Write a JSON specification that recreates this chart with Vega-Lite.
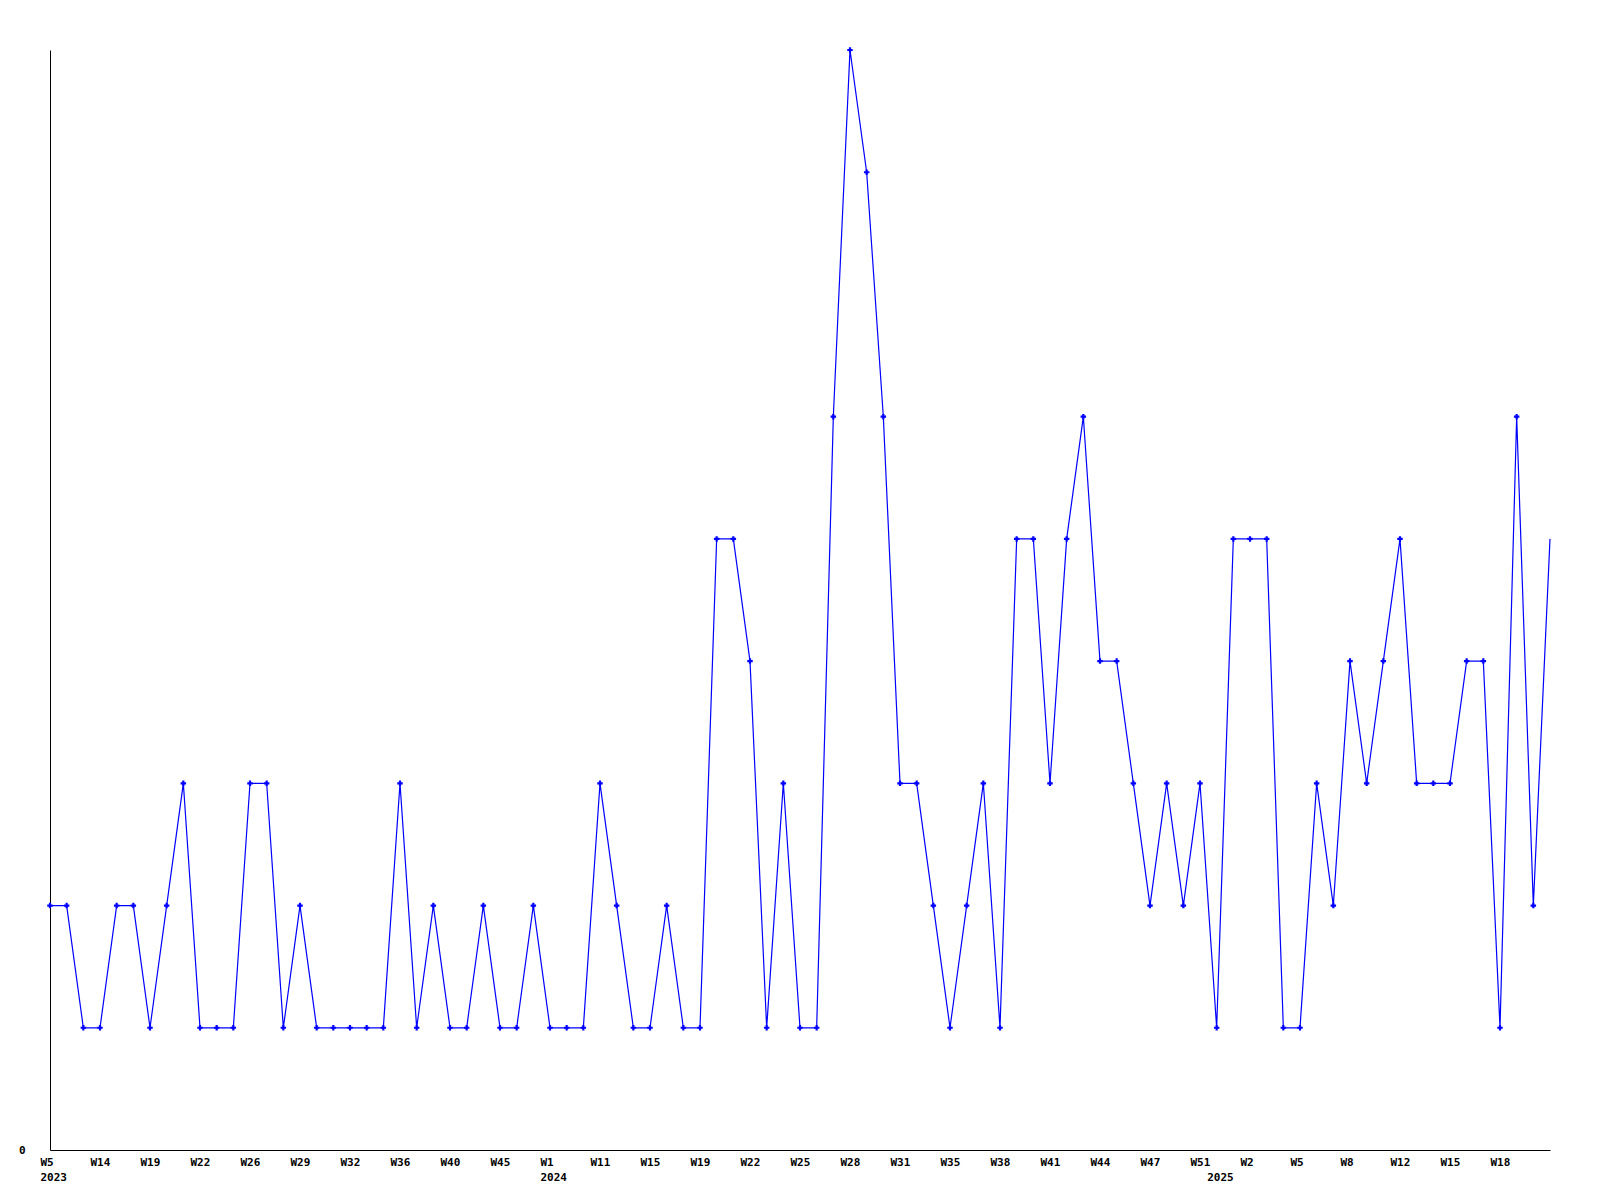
{
  "$schema": "https://vega.github.io/schema/vega-lite/v6.json",
  "width": 1500,
  "height": 1100,
  "autosize": "none",
  "padding": {"left": 50, "top": 50, "right": 50, "bottom": 50},
  "background": "white",
  "config": {
    "view": {"stroke": null},
    "axis": {
      "labelFont": "DejaVu Sans Mono",
      "labelFontWeight": "bold",
      "labelFontSize": 11,
      "labelColor": "black",
      "domainColor": "black",
      "domainWidth": 1,
      "ticks": false,
      "grid": false,
      "title": null,
      "labelOverlap": false
    }
  },
  "data": {
    "values": [
      {"week": "2023-W05", "count": 2},
      {"week": "2023-W09", "count": 2},
      {"week": "2023-W12", "count": 1},
      {"week": "2023-W14", "count": 1},
      {"week": "2023-W16", "count": 2},
      {"week": "2023-W17", "count": 2},
      {"week": "2023-W19", "count": 1},
      {"week": "2023-W20", "count": 2},
      {"week": "2023-W21", "count": 3},
      {"week": "2023-W22", "count": 1},
      {"week": "2023-W23", "count": 1},
      {"week": "2023-W25", "count": 1},
      {"week": "2023-W26", "count": 3},
      {"week": "2023-W27", "count": 3},
      {"week": "2023-W28", "count": 1},
      {"week": "2023-W29", "count": 2},
      {"week": "2023-W30", "count": 1},
      {"week": "2023-W31", "count": 1},
      {"week": "2023-W32", "count": 1},
      {"week": "2023-W33", "count": 1},
      {"week": "2023-W34", "count": 1},
      {"week": "2023-W36", "count": 3},
      {"week": "2023-W37", "count": 1},
      {"week": "2023-W38", "count": 2},
      {"week": "2023-W40", "count": 1},
      {"week": "2023-W42", "count": 1},
      {"week": "2023-W44", "count": 2},
      {"week": "2023-W45", "count": 1},
      {"week": "2023-W47", "count": 1},
      {"week": "2023-W50", "count": 2},
      {"week": "2024-W01", "count": 1},
      {"week": "2024-W05", "count": 1},
      {"week": "2024-W08", "count": 1},
      {"week": "2024-W11", "count": 3},
      {"week": "2024-W12", "count": 2},
      {"week": "2024-W14", "count": 1},
      {"week": "2024-W15", "count": 1},
      {"week": "2024-W16", "count": 2},
      {"week": "2024-W18", "count": 1},
      {"week": "2024-W19", "count": 1},
      {"week": "2024-W20", "count": 5},
      {"week": "2024-W21", "count": 5},
      {"week": "2024-W22", "count": 4},
      {"week": "2024-W23", "count": 1},
      {"week": "2024-W24", "count": 3},
      {"week": "2024-W25", "count": 1},
      {"week": "2024-W26", "count": 1},
      {"week": "2024-W27", "count": 6},
      {"week": "2024-W28", "count": 9},
      {"week": "2024-W29", "count": 8},
      {"week": "2024-W30", "count": 6},
      {"week": "2024-W31", "count": 3},
      {"week": "2024-W32", "count": 3},
      {"week": "2024-W33", "count": 2},
      {"week": "2024-W35", "count": 1},
      {"week": "2024-W36", "count": 2},
      {"week": "2024-W37", "count": 3},
      {"week": "2024-W38", "count": 1},
      {"week": "2024-W39", "count": 5},
      {"week": "2024-W40", "count": 5},
      {"week": "2024-W41", "count": 3},
      {"week": "2024-W42", "count": 5},
      {"week": "2024-W43", "count": 6},
      {"week": "2024-W44", "count": 4},
      {"week": "2024-W45", "count": 4},
      {"week": "2024-W46", "count": 3},
      {"week": "2024-W47", "count": 2},
      {"week": "2024-W49", "count": 3},
      {"week": "2024-W50", "count": 2},
      {"week": "2024-W51", "count": 3},
      {"week": "2025-W00", "count": 1},
      {"week": "2025-W01", "count": 5},
      {"week": "2025-W02", "count": 5},
      {"week": "2025-W03", "count": 5},
      {"week": "2025-W04", "count": 1},
      {"week": "2025-W05", "count": 1},
      {"week": "2025-W06", "count": 3},
      {"week": "2025-W07", "count": 2},
      {"week": "2025-W08", "count": 4},
      {"week": "2025-W10", "count": 3},
      {"week": "2025-W11", "count": 4},
      {"week": "2025-W12", "count": 5},
      {"week": "2025-W13", "count": 3},
      {"week": "2025-W14", "count": 3},
      {"week": "2025-W15", "count": 3},
      {"week": "2025-W16", "count": 4},
      {"week": "2025-W17", "count": 4},
      {"week": "2025-W18", "count": 1},
      {"week": "2025-W19", "count": 6},
      {"week": "2025-W20", "count": 2},
      {"week": "2025-W21", "count": 5}
    ]
  },
  "layer": [
    {
      "mark": {"type": "line", "color": "#0000ff", "strokeWidth": 1.2},
      "encoding": {
        "x": {
          "field": "week",
          "type": "ordinal",
          "sort": null,
          "scale": {"type": "point", "padding": 0},
          "axis": {
            "orient": "bottom",
            "values": ["2023-W05", "2023-W14", "2023-W19", "2023-W22", "2023-W26", "2023-W29", "2023-W32", "2023-W36", "2023-W40", "2023-W45", "2024-W01", "2024-W11", "2024-W15", "2024-W19", "2024-W22", "2024-W25", "2024-W28", "2024-W31", "2024-W35", "2024-W38", "2024-W41", "2024-W44", "2024-W47", "2024-W51", "2025-W02", "2025-W05", "2025-W08", "2025-W12", "2025-W15", "2025-W18"],
            "labelExpr": "'W' + toNumber(slice(datum.value, 6))",
            "labelAlign": "left",
            "labelBaseline": "top",
            "labelAngle": 0,
            "labelOffset": -10,
            "labelPadding": 6
          }
        },
        "y": {
          "field": "count",
          "type": "quantitative",
          "scale": {"domain": [0, 9], "nice": false, "zero": true},
          "axis": {"values": [0], "format": "d", "labelPadding": 25, "labelBaseline": "middle"}
        }
      }
    },
    {
      "transform": [{"filter": "datum.week != '2025-W21'"}],
      "mark": {"type": "point", "shape": "cross", "filled": true, "size": 30, "color": "#0000ff", "opacity": 1},
      "encoding": {
        "x": {
          "field": "week",
          "type": "ordinal",
          "sort": null,
          "axis": {
            "orient": "bottom",
            "values": ["2023-W05", "2024-W01", "2025-W00"],
            "labelExpr": "slice(datum.value, 0, 4)",
            "labelAlign": "left",
            "labelBaseline": "top",
            "labelAngle": 0,
            "labelOffset": -10,
            "labelPadding": 21,
            "domain": false
          }
        },
        "y": {"field": "count", "type": "quantitative"}
      }
    }
  ],
  "resolve": {"axis": {"x": "independent"}}
}
